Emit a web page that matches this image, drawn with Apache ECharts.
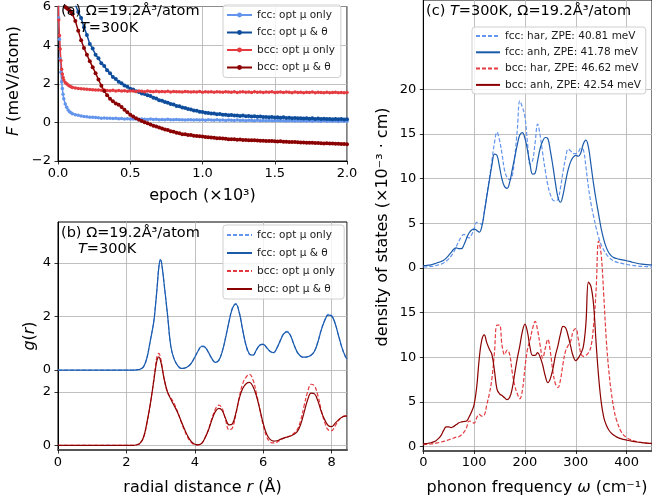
<!DOCTYPE html>
<html>
<head>
<meta charset="utf-8">
<script src="https://cdn.jsdelivr.net/npm/echarts@6/dist/echarts.min.js"></script>
<style>html,body{margin:0;padding:0;background:#fff}#c{width:652px;height:504px}</style>
</head>
<body>
<div id="c"></div>
<script>
// ---------- panel (a): free energy vs epoch (x10^3) ----------
const epoch = [0,0.005,0.01,0.015,0.02,0.025,0.03,0.035,0.04,0.05,0.06,0.07,0.08,0.09,0.1,
0.12,0.14,0.16,0.18,0.2,0.22,0.24,0.26,0.28,0.3,0.32,0.34,0.36,0.38,0.4,0.42,0.44,0.46,0.48,0.5,
0.52,0.54,0.56,0.58,0.6,0.62,0.64,0.66,0.68,0.7,0.72,0.74,0.76,0.78,0.8,0.82,0.84,0.86,0.88,0.9,
0.92,0.94,0.96,0.98,1.0,1.02,1.04,1.06,1.08,1.1,1.12,1.14,1.16,1.18,1.2,1.22,1.24,1.26,1.28,1.3,
1.32,1.34,1.36,1.38,1.4,1.42,1.44,1.46,1.48,1.5,1.52,1.54,1.56,1.58,1.6,1.62,1.64,1.66,1.68,1.7,
1.72,1.74,1.76,1.78,1.8,1.82,1.84,1.86,1.88,1.9,1.92,1.94,1.96,1.98,2.0];
const fFccMu = [7.6,5.4,4.3,3.3,2.6,2.1,1.75,1.45,1.22,0.95,0.78,0.64,0.55,0.5,0.45,
0.40,0.37,0.33,0.31,0.29,0.27,0.26,0.25,0.24,0.22,
0.23,0.21,0.22,0.20,0.21,0.19,0.20,0.18,0.19,0.18,
0.17,0.18,0.16,0.17,0.16,0.15,0.17,0.15,0.16,0.14,
0.15,0.14,0.16,0.14,0.13,0.15,0.13,0.14,0.12,0.14,
0.13,0.12,0.14,0.12,0.13,0.11,0.13,0.12,0.11,0.13,
0.11,0.12,0.10,0.12,0.11,0.10,0.12,0.10,0.11,0.09,
0.11,0.10,0.09,0.11,0.09,0.10,0.08,0.10,0.09,0.08,
0.10,0.08,0.09,0.07,0.09,0.08,0.07,0.09,0.07,0.08,
0.07,0.08,0.06,0.08,0.07,0.06,0.08,0.06,0.07,0.06,
0.07,0.05,0.07,0.06,0.06];
const fFccMuTh = [12.0,11.6,11.2,10.8,10.4,10.0,9.7,9.4,9.1,8.6,8.1,7.6,7.2,6.85,6.5,
6.10,5.72,5.40,4.93,4.52,4.06,3.82,3.50,3.32,3.06,
2.92,2.70,2.54,2.35,2.24,2.10,2.02,1.91,1.85,1.74,
1.70,1.61,1.57,1.50,1.47,1.40,1.36,1.28,1.24,1.15,
1.12,1.05,1.02,0.95,0.92,0.85,0.83,0.77,0.75,0.69,
0.67,0.62,0.60,0.55,0.54,0.50,0.49,0.46,0.46,0.42,
0.43,0.39,0.40,0.37,0.38,0.35,0.36,0.33,0.35,0.32,
0.33,0.30,0.32,0.29,0.30,0.28,0.28,0.26,0.28,0.25,
0.27,0.24,0.26,0.23,0.24,0.22,0.23,0.21,0.22,0.20,
0.21,0.19,0.21,0.18,0.20,0.18,0.19,0.17,0.18,0.16,
0.18,0.16,0.17,0.15,0.16];
const fBccMu = [7.0,5.3,4.5,3.8,3.2,2.75,2.5,2.32,2.2,2.07,2.0,1.93,1.88,1.84,1.81,
1.78,1.76,1.74,1.73,1.71,1.70,1.69,1.68,1.67,1.66,
1.67,1.65,1.64,1.66,1.63,1.65,1.62,1.64,1.61,1.63,
1.62,1.60,1.63,1.61,1.59,1.62,1.60,1.58,1.61,1.59,
1.60,1.58,1.61,1.57,1.60,1.58,1.59,1.57,1.60,1.58,
1.57,1.59,1.57,1.60,1.56,1.58,1.57,1.59,1.56,1.58,
1.57,1.56,1.59,1.57,1.56,1.58,1.55,1.57,1.58,1.56,
1.57,1.55,1.58,1.56,1.57,1.55,1.57,1.56,1.58,1.55,
1.56,1.57,1.55,1.57,1.56,1.54,1.57,1.55,1.56,1.54,
1.56,1.55,1.57,1.54,1.56,1.55,1.53,1.56,1.54,1.55,
1.56,1.54,1.55,1.53,1.55];
const fBccMuTh = [9.5,8.5,7.6,7.0,6.6,6.4,6.25,6.15,6.05,5.98,5.92,5.86,5.8,5.72,5.6,
5.25,4.75,4.25,3.85,3.50,3.17,2.86,2.55,2.22,1.90,
1.62,1.41,1.22,1.09,0.98,0.91,0.80,0.66,0.52,0.40,
0.30,0.22,0.14,0.07,0.01,-0.05,-0.11,-0.17,-0.22,-0.27,
-0.32,-0.37,-0.40,-0.46,-0.49,-0.54,-0.56,-0.61,-0.62,-0.65,
-0.66,-0.69,-0.70,-0.72,-0.73,-0.76,-0.77,-0.78,-0.80,-0.82,
-0.82,-0.84,-0.85,-0.87,-0.87,-0.88,-0.90,-0.89,-0.91,-0.91,
-0.92,-0.93,-0.93,-0.94,-0.95,-0.95,-0.96,-0.97,-0.97,-0.98,
-0.99,-0.98,-1.00,-1.00,-1.01,-1.02,-1.02,-1.03,-1.04,-1.04,
-1.05,-1.06,-1.06,-1.07,-1.07,-1.08,-1.09,-1.08,-1.10,-1.10,
-1.11,-1.11,-1.12,-1.12,-1.13];

// ---------- panel (b): radial distribution g(r) ----------
const rDist = [0,0.5,1.0,1.5,2.0,2.2,2.3,2.4,2.5,2.6,2.7,2.8,2.85,2.9,2.95,3.0,3.05,3.1,
3.2,3.3,3.4,3.5,3.6,3.7,3.8,3.9,4.0,4.1,4.2,4.3,4.4,4.5,4.6,4.7,4.8,4.9,5.0,5.1,
5.2,5.3,5.4,5.5,5.6,5.7,5.8,5.9,6.0,6.1,6.2,6.3,6.4,6.5,6.6,6.7,6.8,6.9,7.0,7.1,
7.2,7.3,7.4,7.5,7.6,7.7,7.8,7.9,8.0,8.1,8.2,8.3,8.4,8.45];
const gFccMu = [0,0,0,0,0,0,0.01,0.03,0.12,0.46,1.12,1.82,
2.45,3.15,3.9,4.16,3.82,3.25,
2.08,0.86,0.4,0.17,0.06,0.07,0.13,0.26,0.49,0.73,
0.9,0.86,0.66,0.42,0.28,0.36,0.69,1.22,1.83,2.33,
2.48,2.15,1.49,0.9,0.58,0.55,0.75,0.94,0.97,0.84,
0.69,0.64,0.82,1.11,1.37,1.45,1.29,0.94,0.65,0.51,
0.47,0.5,0.56,0.71,1.07,1.53,1.88,2.08,2.04,1.76,
1.3,0.84,0.51,0.41];
const gFccMuTh = [0,0,0,0,0,0,0.01,0.03,0.12,0.45,1.1,1.8,
2.4,3.1,3.85,4.12,3.8,3.25,
2.1,0.88,0.4,0.17,0.06,0.07,0.13,0.26,0.48,0.72,
0.88,0.85,0.66,0.43,0.29,0.36,0.68,1.2,1.8,2.3,
2.46,2.15,1.5,0.92,0.6,0.56,0.75,0.93,0.96,0.84,
0.7,0.65,0.82,1.1,1.35,1.43,1.28,0.95,0.66,0.52,
0.48,0.5,0.55,0.7,1.05,1.5,1.85,2.05,2.02,1.75,
1.3,0.85,0.52,0.42];
const gBccMu = [0,0,0,0,0,0,0.02,0.07,0.28,0.82,1.55,2.45,
2.95,3.35,3.43,3.25,2.9,2.5,
1.98,1.78,1.55,1.25,0.88,0.55,0.28,0.1,0.02,0.02,
0.07,0.28,0.6,1.0,1.35,1.5,1.38,0.95,0.58,0.65,
1.15,1.8,2.3,2.55,2.65,2.45,1.95,1.35,0.75,0.32,
0.13,0.09,0.12,0.2,0.26,0.31,0.36,0.45,0.6,0.95,
1.5,2.0,2.28,2.22,1.85,1.3,0.85,0.58,0.55,0.72,
0.92,1.05,1.1,1.1];
const gBccMuTh = [0,0,0,0,0,0,0.02,0.08,0.3,0.85,1.55,2.4,
2.85,3.2,3.3,3.15,2.85,2.5,
2.0,1.72,1.47,1.22,0.9,0.6,0.33,0.14,0.04,0.02,
0.07,0.28,0.57,0.95,1.26,1.38,1.3,1.0,0.76,0.8,
1.2,1.75,2.12,2.3,2.35,2.2,1.85,1.35,0.82,0.42,
0.22,0.16,0.17,0.22,0.27,0.31,0.35,0.41,0.52,0.8,
1.25,1.7,1.95,1.92,1.65,1.25,0.95,0.74,0.7,0.82,
0.95,1.05,1.09,1.09];
const gFccShift = 2.81;      // vertical offset of the fcc curves
const gTickVals = [0, 2];     // tick labels of each sub-panel
// ---------- panel (c): phonon density of states ----------
const omega = [0,5,10,15,20,25,30,35,40,45,50,55,60,65,70,75,80,85,90,95,
100,105,110,115,120,125,130,135,140,145,150,155,160,165,170,175,180,185,190,195,
200,205,210,215,220,225,230,235,240,245,250,255,260,265,270,275,280,285,290,295,
300,305,310,315,320,325,330,335,340,345,350,355,360,365,370,375,380,
390,400,410,420,430,440,450];
const dFccHar = [0.1,0.11,0.13,0.16,0.2,0.26,0.33,0.42,0.55,0.75,
1.0,1.35,1.8,2.4,3.0,3.5,3.75,3.5,3.35,3.7,
4.4,5.1,5.0,4.9,6.3,8.2,10.0,12.0,14.0,15.2,
14.3,12.7,10.9,10.1,9.9,10.3,12.5,15.5,18.7,18.0,
16.9,14.0,11.6,12.0,14.0,16.1,14.8,12.8,10.9,9.3,
8.2,7.6,7.5,7.7,9.0,10.8,12.3,13.3,13.1,12.8,
12.8,13.0,13.4,13.2,11.3,9.0,7.2,5.8,4.5,3.4,
2.6,2.0,1.55,1.2,0.95,0.78,0.65,
0.5,0.38,0.29,0.22,0.17,0.14,0.12];
const dFccAnh = [0.25,0.27,0.3,0.34,0.42,0.52,0.62,0.72,0.85,1.1,
1.4,1.75,2.1,2.25,2.15,2.15,2.6,3.3,3.9,4.25,
4.35,4.2,4.0,4.6,6.2,8.0,9.8,11.5,12.75,12.6,
11.3,9.9,9.1,8.9,9.6,11.0,12.4,13.8,14.9,15.15,
14.5,13.2,11.6,10.5,10.6,12.0,13.4,14.2,14.6,14.5,
13.1,11.4,9.5,7.9,7.35,8.2,9.7,11.0,11.9,12.4,
12.6,12.5,12.9,13.9,14.3,13.5,11.5,9.4,7.6,6.0,
4.4,3.2,2.3,1.7,1.35,1.15,1.05,
0.92,0.8,0.65,0.52,0.43,0.37,0.33];
const dBccHar = [0.2,0.22,0.25,0.28,0.32,0.37,0.43,0.5,0.57,0.65,
0.75,0.85,0.95,1.05,1.1,1.3,1.6,2.1,2.85,2.8,
2.6,3.2,3.6,3.4,3.5,4.7,5.9,7.6,10.5,13.6,
13.6,11.3,10.3,10.8,10.3,8.3,6.8,5.9,5.35,6.3,
8.8,10.9,11.9,13.2,14.0,13.0,11.3,9.9,11.0,12.0,
10.6,8.4,7.0,6.6,7.5,9.3,10.7,11.3,11.8,12.9,
13.2,12.0,10.4,10.1,10.2,10.5,11.2,13.5,17.5,23.0,
21.5,17.0,12.0,8.5,6.0,4.2,3.0,
1.6,1.0,0.72,0.55,0.45,0.38,0.33];
const dBccAnh = [0.3,0.32,0.36,0.42,0.52,0.65,0.9,1.25,1.8,2.2,
2.2,2.12,2.25,2.45,2.65,2.75,2.8,2.85,3.3,3.9,
4.7,6.6,9.8,11.9,12.5,11.6,10.9,10.3,8.5,6.4,
5.9,5.7,5.45,5.25,5.5,6.5,8.2,9.9,11.3,12.9,
13.7,12.8,11.1,10.2,10.2,10.5,10.0,9.1,7.9,7.15,
7.6,8.7,10.2,11.3,12.6,13.45,13.3,12.4,11.2,10.1,
9.6,9.9,10.4,11.2,13.8,18.4,17.9,15.9,11.6,7.8,
5.0,3.3,2.4,1.85,1.5,1.25,1.08,
0.85,0.72,0.6,0.5,0.43,0.38,0.34];
const dFccShift = 20;
const dTickVals = [0, 5, 10, 15];
const dTickValsTop = [0, 5, 10, 15, 20];

const legA = ['fcc: opt μ only', 'fcc: opt μ & θ', 'bcc: opt μ only', 'bcc: opt μ & θ'];
const legC = ['fcc: har, ZPE: 40.81 meV', 'fcc: anh, ZPE: 41.78 meV', 'bcc: har, ZPE: 46.62 meV', 'bcc: anh, ZPE: 42.54 meV'];

// ---------- build ----------
const FONT = "'DejaVu Sans', sans-serif";
const C_LB = '#6495ed', C_DB = '#0e4d9c', C_R = '#e33b40', C_DR = '#8b0000', C_B2 = '#1a5aab';
const pairs = (xs, ys, off) => xs.map((x, i) => [x, ys[i] + (off || 0)]);
const bSuffix = ' ';
const chart = echarts.init(document.getElementById('c'), null, {renderer: 'canvas'});

const tickStyle = {show: true, inside: false, length: 3.5, lineStyle: {color: '#000', width: 0.8}};
const split = {show: true, lineStyle: {color: '#b0b0b0', width: 0.8}};
const lbl = {color: '#000', fontSize: 13, fontFamily: FONT, margin: 6};
const minus = v => (v < 0 ? '\u2212' + Math.abs(v) : String(v));

const yTicksB = gTickVals.concat([gFccShift + 0, gFccShift + 2, gFccShift + 4]);
const yTicksC = dTickVals.concat(dTickValsTop.map(v => v + dFccShift));

function legendBase(top, left, names, gap, pad) {
  return {
    orient: 'vertical', left: left, top: top, itemWidth: 24, itemHeight: 6, itemGap: gap,
    padding: pad, backgroundColor: 'rgba(255,255,255,0.8)', borderColor: '#cfcfcf',
    borderWidth: 1, borderRadius: 3, selectedMode: false,
    textStyle: {fontFamily: FONT, fontSize: 10.5, color: '#1a1a1a', lineHeight: 12},
    data: names
  };
}

const option = {
  animation: false,
  backgroundColor: '#fff',
  grid: [
    {left: 58, top: 1, width: 289, height: 160, show: true, borderColor: '#000', borderWidth: 1, backgroundColor: 'transparent'},
    {left: 58, top: 222, width: 289, height: 228, show: true, borderColor: '#000', borderWidth: 1, backgroundColor: 'transparent'},
    {left: 423.3, top: 0, width: 232.5, height: 450.5, show: true, borderColor: '#000', borderWidth: 1, backgroundColor: 'transparent'}
  ],
  xAxis: [
    {gridIndex: 0, type: 'value', min: 0, max: 2, interval: 0.5, axisLine: {onZero: false, lineStyle: {color: '#000', width: 1}},
     axisTick: tickStyle, splitLine: split, axisLabel: Object.assign({}, lbl, {formatter: v => v.toFixed(1)})},
    {gridIndex: 1, type: 'value', min: 0, max: 8.45, interval: 2, axisLine: {onZero: false, lineStyle: {color: '#555', width: 2}},
     axisTick: tickStyle, splitLine: split, axisLabel: Object.assign({}, lbl, {showMaxLabel: false})},
    {gridIndex: 2, type: 'value', min: 0, max: 450, interval: 100, axisLine: {onZero: false, lineStyle: {color: '#555', width: 2}},
     axisTick: tickStyle, splitLine: split, axisLabel: Object.assign({}, lbl, {showMaxLabel: false})}
  ],
  yAxis: [
    {gridIndex: 0, type: 'value', min: -2, max: 6, interval: 2, axisLine: {show: true, onZero: false, lineStyle: {color: '#000', width: 1}},
     axisTick: tickStyle, splitLine: split, axisLabel: Object.assign({}, lbl, {formatter: minus, margin: 7})},
    {gridIndex: 1, type: 'value', min: -0.175, max: 8.34, axisLine: {show: true, onZero: false, lineStyle: {color: '#000', width: 1}},
     axisTick: Object.assign({}, tickStyle, {customValues: yTicksB}), splitLine: split,
     axisLabel: Object.assign({}, lbl, {margin: 7, customValues: yTicksB,
       formatter: v => String(Math.round(v >= gFccShift - 0.01 ? v - gFccShift : v))})},
    {gridIndex: 2, type: 'value', min: -0.45, max: 50, axisLine: {show: true, onZero: false, lineStyle: {color: '#000', width: 1}},
     axisTick: Object.assign({}, tickStyle, {customValues: yTicksC}), splitLine: split,
     axisLabel: Object.assign({}, lbl, {margin: 7, customValues: yTicksC,
       formatter: v => String(Math.round(v >= dFccShift - 0.01 ? v - dFccShift : v))})}
  ],
  legend: [
    Object.assign(legendBase(5, 223, legA, 5.5, [4, 6, 4, 3]), {itemWidth: 25}),
    Object.assign(legendBase(225, 223, legA.map(n => n + bSuffix), 6, [4, 6, 4, 3]), {itemWidth: 25, itemStyle: {opacity: 0}}),
    Object.assign(legendBase(27, 472, legC, 4.3, [3, 5, 3, 3]), {itemStyle: {opacity: 0}})
  ],
  series: [
    // (a)
    {name: legA[0], type: 'line', xAxisIndex: 0, yAxisIndex: 0, data: pairs(epoch, fFccMu), symbol: 'circle', symbolSize: 3.5, lineStyle: {color: C_LB, width: 1.5}, itemStyle: {color: C_LB}},
    {name: legA[1], type: 'line', xAxisIndex: 0, yAxisIndex: 0, data: pairs(epoch, fFccMuTh), symbol: 'circle', symbolSize: 4, lineStyle: {color: C_DB, width: 1.5}, itemStyle: {color: C_DB}},
    {name: legA[2], type: 'line', xAxisIndex: 0, yAxisIndex: 0, data: pairs(epoch, fBccMu), symbol: 'circle', symbolSize: 3.5, lineStyle: {color: C_R, width: 1.5}, itemStyle: {color: C_R}},
    {name: legA[3], type: 'line', xAxisIndex: 0, yAxisIndex: 0, data: pairs(epoch, fBccMuTh), symbol: 'circle', symbolSize: 4, lineStyle: {color: C_DR, width: 1.5}, itemStyle: {color: C_DR}},
    // (b)
    {name: legA[0] + bSuffix, type: 'line', xAxisIndex: 1, yAxisIndex: 1, data: pairs(rDist, gFccMu, gFccShift), symbol: 'none', smooth: 0.4, lineStyle: {color: C_LB, width: 1.2, type: [4, 2]}, itemStyle: {color: C_LB}},
    {name: legA[1] + bSuffix, type: 'line', xAxisIndex: 1, yAxisIndex: 1, data: pairs(rDist, gFccMuTh, gFccShift), symbol: 'none', smooth: 0.4, lineStyle: {color: C_B2, width: 1.2}, itemStyle: {color: C_B2}},
    {name: legA[2] + bSuffix, type: 'line', xAxisIndex: 1, yAxisIndex: 1, data: pairs(rDist, gBccMu), symbol: 'none', smooth: 0.4, lineStyle: {color: C_R, width: 1.2, type: [4, 2]}, itemStyle: {color: C_R}},
    {name: legA[3] + bSuffix, type: 'line', xAxisIndex: 1, yAxisIndex: 1, data: pairs(rDist, gBccMuTh), symbol: 'none', smooth: 0.4, lineStyle: {color: C_DR, width: 1.2}, itemStyle: {color: C_DR}},
    // (c)
    {name: legC[0], type: 'line', xAxisIndex: 2, yAxisIndex: 2, data: pairs(omega, dFccHar, dFccShift), symbol: 'none', smooth: 0.4, lineStyle: {color: C_LB, width: 1.2, type: [4, 2]}, itemStyle: {color: C_LB}},
    {name: legC[1], type: 'line', xAxisIndex: 2, yAxisIndex: 2, data: pairs(omega, dFccAnh, dFccShift), symbol: 'none', smooth: 0.4, lineStyle: {color: C_B2, width: 1.2}, itemStyle: {color: C_B2}},
    {name: legC[2], type: 'line', xAxisIndex: 2, yAxisIndex: 2, data: pairs(omega, dBccHar), symbol: 'none', smooth: 0.4, lineStyle: {color: C_R, width: 1.2, type: [4, 2]}, itemStyle: {color: C_R}},
    {name: legC[3], type: 'line', xAxisIndex: 2, yAxisIndex: 2, data: pairs(omega, dBccAnh), symbol: 'none', smooth: 0.4, lineStyle: {color: C_DR, width: 1.2}, itemStyle: {color: C_DR}}
  ],
  graphic: [
    {type: 'text', left: 61, top: 4, z: 100, style: {text: '(a) Ω=19.2Å³/atom', font: '14.5px ' + FONT, fill: '#000'}},
    {type: 'text', left: 80, top: 21, z: 100, style: {text: '{i|T}=300K', font: '14.5px ' + FONT, fill: '#000', rich: {i: {fontStyle: 'italic', fontSize: 14.5, fontFamily: FONT}}}},
    {type: 'text', left: 61, top: 226, z: 100, style: {text: '(b) Ω=19.2Å³/atom', font: '14.5px ' + FONT, fill: '#000'}},
    {type: 'text', left: 78, top: 242, z: 100, style: {text: '{i|T}=300K', font: '14.5px ' + FONT, fill: '#000', rich: {i: {fontStyle: 'italic', fontSize: 14.5, fontFamily: FONT}}}},
    {type: 'text', left: 426, top: 4, z: 100, style: {text: '(c) {i|T}=300K, Ω=19.2Å³/atom', font: '14.5px ' + FONT, fill: '#000', rich: {i: {fontStyle: 'italic', fontSize: 14.5, fontFamily: FONT}}}},
    // axis titles
    {type: 'text', x: 202.5, y: 196, style: {text: 'epoch (×10³)', font: '16px ' + FONT, fill: '#000', align: 'center', verticalAlign: 'middle'}},
    {type: 'text', x: 202.5, y: 488, style: {text: 'radial distance {i|r} (Å)', font: '16px ' + FONT, fill: '#000', align: 'center', verticalAlign: 'middle', rich: {i: {fontStyle: 'italic', fontSize: 16, fontFamily: FONT}}}},
    {type: 'text', x: 537, y: 488, style: {text: 'phonon frequency {i|ω} (cm⁻¹)', font: '16px ' + FONT, fill: '#000', align: 'center', verticalAlign: 'middle', rich: {i: {fontStyle: 'italic', fontSize: 16, fontFamily: FONT}}}},
    {type: 'text', x: 14, y: 81, rotation: Math.PI / 2, style: {text: '{i|F} (meV/atom)', font: '16px ' + FONT, fill: '#000', align: 'center', verticalAlign: 'middle', rich: {i: {fontStyle: 'italic', fontSize: 16, fontFamily: FONT}}}},
    {type: 'text', x: 30, y: 336, rotation: Math.PI / 2, style: {text: '{i|g}({i|r})', font: '16px ' + FONT, fill: '#000', align: 'center', verticalAlign: 'middle', rich: {i: {fontStyle: 'italic', fontSize: 16, fontFamily: FONT}}}},
    {type: 'text', x: 383, y: 227, rotation: Math.PI / 2, style: {text: 'density of states (×10⁻³ · cm)', font: '16px ' + FONT, fill: '#000', align: 'center', verticalAlign: 'middle'}}
  ]
};
chart.setOption(option);
</script>
</body>
</html>
